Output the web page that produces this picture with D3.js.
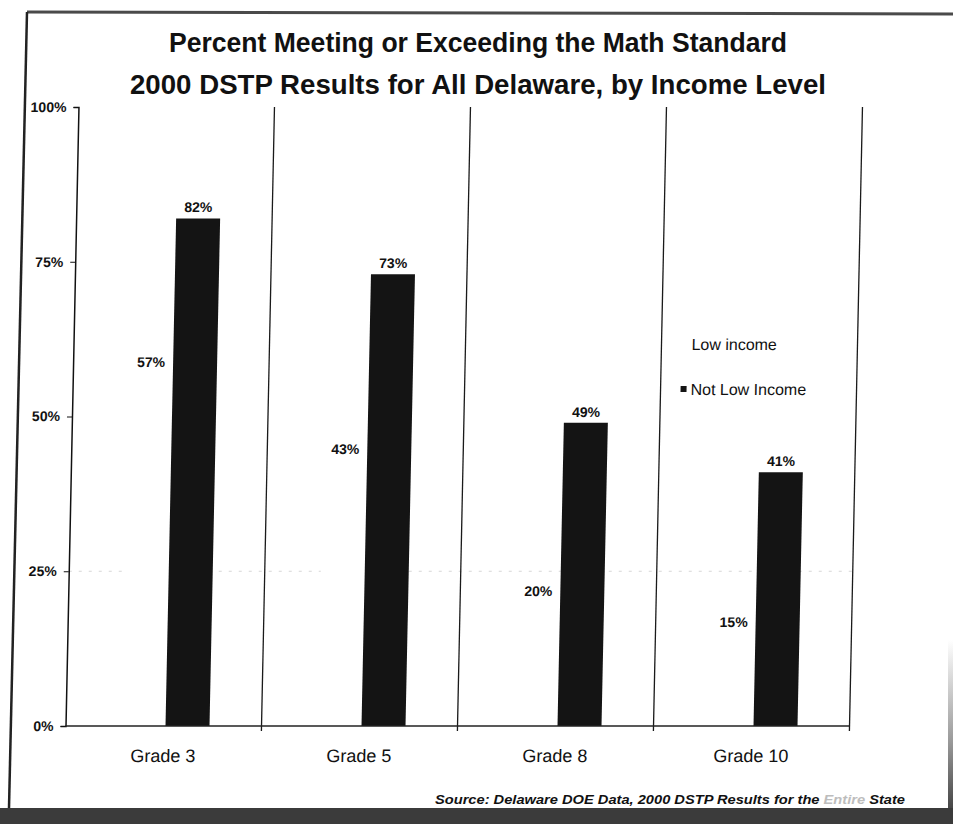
<!DOCTYPE html>
<html>
<head>
<meta charset="utf-8">
<script src="https://cdn.jsdelivr.net/npm/d3@7/dist/d3.min.js"></script>
<style>
  html, body { margin: 0; padding: 0; background: #fff; }
  svg { display: block; }
  text { font-family: "Liberation Sans", Arial, sans-serif; fill: #111; }
</style>
</head>
<body>
<svg id="chart" width="953" height="824"></svg>
<script>
// Percent of students meeting the math standard, 2000 DSTP, by income level
const categories = ["Grade 3", "Grade 5", "Grade 8", "Grade 10"];
const seriesNames = ["Low income", "Not Low Income"];
const lowIncome = [57, 43, 20, 15];
const notLowIncome = [82, 73, 49, 41];
const yTicks = [0, 25, 50, 75, 100];
const titleLines = [
  "Percent Meeting or Exceeding the Math Standard",
  "2000 DSTP Results for All Delaware, by Income Level"
];

const svg = d3.select("#chart");
const W = 953, H = 824;

// page edges
svg.append("rect").attr("x", 0).attr("y", 0).attr("width", W).attr("height", H).attr("fill", "#fff");
const edgeGrad = svg.append("defs").append("linearGradient")
  .attr("id", "edgeGrad").attr("x1", 0).attr("x2", 0).attr("y1", 0).attr("y2", 1);
edgeGrad.append("stop").attr("offset", "0%").attr("stop-color", "#fff");
edgeGrad.append("stop").attr("offset", "60%").attr("stop-color", "#999");
edgeGrad.append("stop").attr("offset", "100%").attr("stop-color", "#444");
svg.append("rect").attr("x", 948).attr("y", 640).attr("width", 5).attr("height", 170).attr("fill", "url(#edgeGrad)");
svg.append("rect").attr("x", 0).attr("y", 808).attr("width", W).attr("height", 16).attr("fill", "#3b3b3b");
svg.append("line").attr("x1", 27).attr("y1", 12).attr("x2", 953).attr("y2", 14)
  .attr("stroke", "#4a4a4a").attr("stroke-width", 3);
svg.append("line").attr("x1", 27).attr("y1", 12).attr("x2", 9).attr("y2", 808)
  .attr("stroke", "#222").attr("stroke-width", 2.5);

// title
svg.selectAll("text.title").data(titleLines).join("text")
  .attr("class", "title")
  .attr("x", 478)
  .attr("y", (d, i) => 52 + i * 42)
  .attr("text-anchor", "middle")
  .attr("font-size", 27)
  .attr("font-weight", "bold")
  .attr("textLength", (d, i) => i === 0 ? 618 : 696)
  .attr("lengthAdjust", "spacingAndGlyphs")
  .text(d => d);

// source note
const src = svg.append("text")
  .attr("x", 905).attr("y", 804)
  .attr("text-anchor", "end")
  .attr("font-size", 12)
  .attr("font-weight", "bold")
  .attr("font-style", "italic")
  .attr("textLength", 470)
  .attr("lengthAdjust", "spacingAndGlyphs");
src.append("tspan").text("Source:  Delaware DOE Data, 2000 DSTP Results for the ");
src.append("tspan").attr("fill", "#bdbdbd").text("Entire");
src.append("tspan").text(" State");

// plot area (slightly sheared, like the printed sheet)
const midY = 416;
const g = svg.append("g")
  .attr("transform", `translate(0,${midY}) skewX(-1.2) translate(0,${-midY})`);

const x = d3.scaleBand().domain(categories).range([72, 856]).padding(0);
const xs = d3.scaleBand().domain(seriesNames).range([0, 88]).padding(0);
const y = d3.scaleLinear().domain([0, 100]).range([726, 107]);

// faint 25% gridline
g.append("line")
  .attr("x1", x.range()[0]).attr("x2", x.range()[1])
  .attr("y1", y(25)).attr("y2", y(25))
  .attr("stroke", "#d6d6d6").attr("stroke-width", 1.2)
  .attr("stroke-dasharray", "3,7");

// category dividers
const dividers = categories.slice(1).map(c => x(c)).concat([x.range()[1]]);
g.selectAll("line.div").data(dividers).join("line")
  .attr("class", "div")
  .attr("x1", d => d).attr("x2", d => d)
  .attr("y1", y(0) + 5).attr("y2", y(100))
  .attr("stroke", "#1a1a1a").attr("stroke-width", 1.3);

// bars
const rows = categories.map((c, i) => ({ c, vals: [lowIncome[i], notLowIncome[i]] }));
const groupX = c => x(c) + x.bandwidth() / 2 - 42;
const barFill = ["#ffffff", "#141414"];

const groups = g.selectAll("g.grp").data(rows).join("g")
  .attr("class", "grp")
  .attr("transform", d => `translate(${groupX(d.c)},0)`);

groups.selectAll("rect").data(d => d.vals.map((v, k) => ({ v, k })))
  .join("rect")
  .attr("x", d => xs(seriesNames[d.k]))
  .attr("width", xs.bandwidth())
  .attr("y", d => y(d.v))
  .attr("height", d => y(0) - y(d.v))
  .attr("fill", d => barFill[d.k]);

groups.selectAll("text").data(d => d.vals.map((v, k) => ({ v, k })))
  .join("text")
  .attr("x", d => xs(seriesNames[d.k]) + xs.bandwidth() / 2)
  .attr("y", d => y(d.v) - 6)
  .attr("text-anchor", "middle")
  .attr("font-size", 14)
  .attr("font-weight", "bold")
  .text(d => d.v + "%");

// y axis
const yAxis = g.append("g")
  .attr("transform", `translate(${x.range()[0]},0)`)
  .call(d3.axisLeft(y).tickValues(yTicks).tickFormat(d => d + "%").tickSize(5).tickPadding(7));
yAxis.select(".domain").attr("stroke", "#111").attr("stroke-width", 1.5);
yAxis.selectAll(".tick line").attr("stroke", "#111").attr("stroke-width", 1.2);
yAxis.selectAll(".tick text")
  .attr("font-family", "'Liberation Sans', Arial, sans-serif")
  .attr("font-size", 14).attr("font-weight", "bold").attr("fill", "#111");

// baseline
g.append("line")
  .attr("x1", x.range()[0]).attr("x2", x.range()[1])
  .attr("y1", y(0)).attr("y2", y(0))
  .attr("stroke", "#222").attr("stroke-width", 1.5);

// category labels
g.selectAll("text.cat").data(categories).join("text")
  .attr("class", "cat")
  .attr("x", c => x(c) + x.bandwidth() / 2)
  .attr("y", 762)
  .attr("text-anchor", "middle")
  .attr("font-size", 18)
  .text(c => c);

// legend
const legend = g.selectAll("g.leg").data(seriesNames).join("g")
  .attr("class", "leg")
  .attr("transform", (d, i) => `translate(680,${350 + i * 45})`);
legend.append("rect")
  .attr("x", 0).attr("y", -9).attr("width", 6).attr("height", 6)
  .attr("fill", (d, i) => barFill[i]);
legend.append("text")
  .attr("x", 10).attr("y", 0)
  .attr("font-size", 16)
  .text(d => d);
</script>
</body>
</html>
